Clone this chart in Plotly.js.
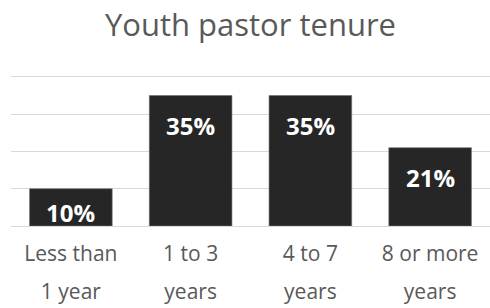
<!DOCTYPE html>
<html>
<head>
<meta charset="utf-8">
<script src="https://cdn.plot.ly/plotly-3.0.1.min.js"></script>
<style>html,body{margin:0;padding:0;background:#fff;}#chart{width:490px;height:308px;}</style>
</head>
<body>
<div id="chart"></div>
<script>
const categories = ["Less than<br>1 year", "1 to 3<br>years", "4 to 7<br>years", "8 or more<br>years"];
const values = [10, 35, 35, 21];
const valueLabels = ["10%", "35%", "35%", "21%"];
const gridValues = [10, 20, 30, 40];
const titleText = "Youth pastor tenure";

const H = 308, marginT = 75, marginB = 82;
const yTop = 40.5;
const pxPer = (H - marginT - marginB) / yTop;

const tickText = categories.map(c => "<span style='font-size:21px'>" + c + "</span>");

const annotations = values.map((v, i) => {
  const barPx = v * pxPer;
  const shift = Math.min(11, barPx - 32);
  return {
    x: categories[i], y: v, xref: 'x', yref: 'y',
    text: valueLabels[i], showarrow: false, yanchor: 'top', yshift: -shift,
    font: {family: 'Open Sans', size: 24, color: '#ffffff', weight: 'bold'}
  };
});

const trace = {
  type: 'bar', x: categories, y: values,
  marker: {color: '#262626', line: {color: '#6f6f6f', width: 0.6}},
  hoverinfo: 'none'
};

const layout = {
  width: 490, height: 308,
  margin: {l: 11, r: 0, t: marginT, b: marginB},
  paper_bgcolor: '#ffffff', plot_bgcolor: '#ffffff',
  bargap: 0.31,
  showlegend: false,
  title: {text: titleText, font: {family: 'Open Sans', size: 31, color: '#595959'},
          xref: 'paper', x: 0.5, xanchor: 'center', yref: 'container', y: 0.918, yanchor: 'middle'},
  xaxis: {type: 'category', tickmode: 'array', tickvals: categories, ticktext: tickText,
          tickfont: {family: 'Open Sans', size: 29, color: '#595959'}, ticklabelstandoff: 5,
          showline: false, ticks: '', showgrid: false, fixedrange: true},
  yaxis: {range: [0, yTop], tickmode: 'array', tickvals: gridValues, showticklabels: false,
          gridcolor: '#d9d9d9', gridwidth: 1,
          zeroline: true, zerolinecolor: '#d9d9d9', zerolinewidth: 1, showline: false, ticks: '', fixedrange: true},
  annotations: annotations
};

Plotly.newPlot('chart', [trace], layout, {displayModeBar: false, staticPlot: true});
</script>
</body>
</html>
